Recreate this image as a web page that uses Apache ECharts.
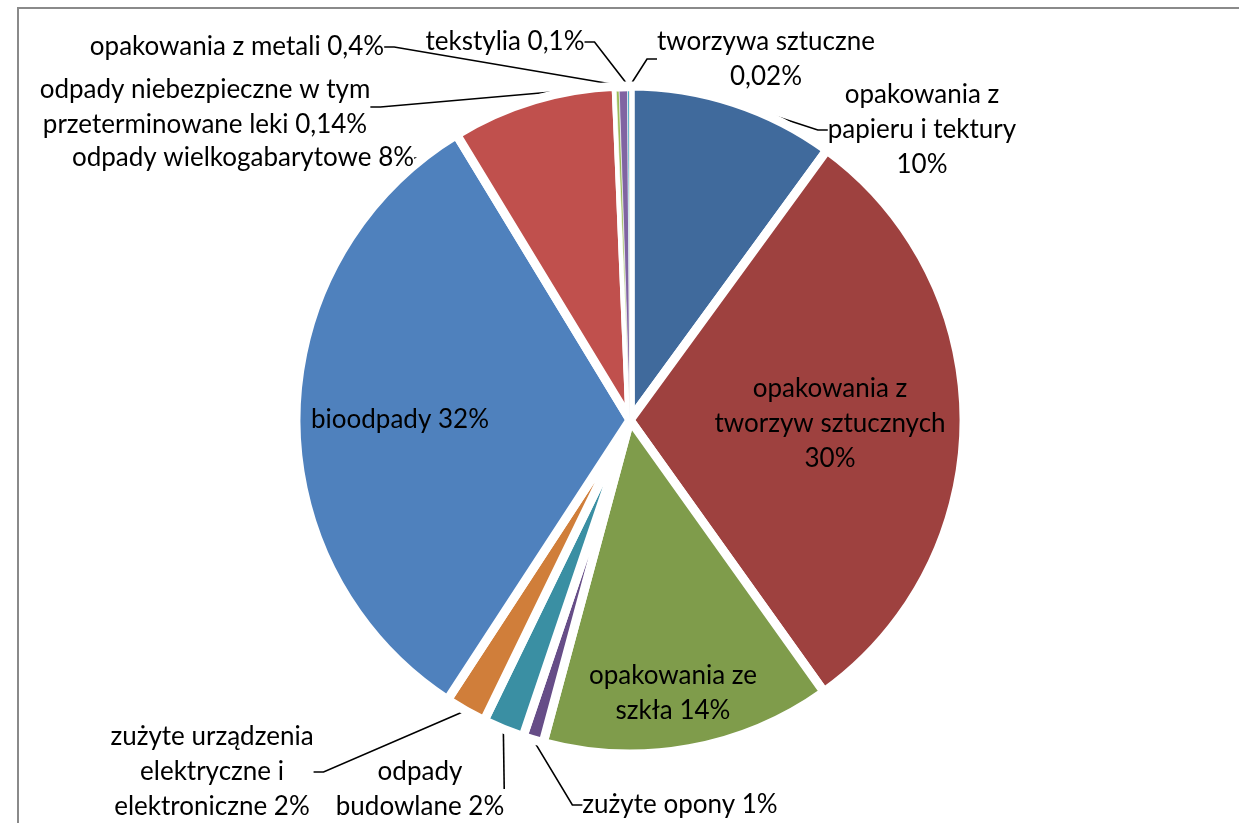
<!DOCTYPE html>
<html>
<head>
<meta charset="utf-8">
<script src="https://cdn.jsdelivr.net/npm/echarts@6/dist/echarts.min.js"></script>
<style>
html, body { margin: 0; padding: 0; background: #fff; }
#chart { width: 1239px; height: 823px; }
</style>
</head>
<body>
<div id="chart"></div>
<script>
// kategorie i udzialy (%)
var categories = [
  'opakowania z papieru i tektury',
  'opakowania z tworzyw sztucznych',
  'opakowania ze szkła',
  'zużyte opony',
  'odpady budowlane',
  'zużyte urządzenia elektryczne i elektroniczne',
  'bioodpady',
  'odpady wielkogabarytowe',
  'odpady niebezpieczne w tym przeterminowane leki',
  'opakowania z metali',
  'tekstylia',
  'tworzywa sztuczne'
];
var values = [10, 30, 14, 1, 2, 2, 32, 8, 0.14, 0.4, 0.1, 0.02];
// tekst etykiet z podzialem wierszy jak na wykresie
var labelNames = [
  'opakowania z\npapieru i tektury\n',
  'opakowania z\ntworzyw sztucznych\n',
  'opakowania ze\nszkła ',
  'zużyte opony ',
  'odpady\nbudowlane ',
  'zużyte urządzenia\nelektryczne i\nelektroniczne ',
  'bioodpady ',
  'odpady wielkogabarytowe ',
  'odpady niebezpieczne w tym\nprzeterminowane leki ',
  'opakowania z metali ',
  'tekstylia ',
  'tworzywa sztuczne\n'
];
var colors = ['#406A9C', '#9E413F', '#7F9C4B', '#664D87', '#3A8FA3', '#D07E3A',
              '#4F81BD', '#C0504D', '#9BBB59', '#8064A2', '#4BACC6', '#F79646'];
var insideLabels = [1, 2, 6];
var tinySlices = [8, 9, 10, 11];

// polozenie etykiet (srodek bloku tekstu)
var labelPos = [
  [922, 130], [830, 424], [673, 693], [680, 805], [420, 789], [212, 772],
  [400, 420], [243, 158], [205, 107], [237, 47], [505, 42], [766, 59]
];

var myChart = echarts.init(document.getElementById('chart'));

var pieData = categories.map(function (c, i) {
  var item = {
    name: c,
    value: values[i],
    itemStyle: { color: colors[i] }
  };
  if (insideLabels.indexOf(i) >= 0) {
    item.label = { position: 'inside' };
    item.labelLine = { show: false };
  }
  return item;
});

// drugi pierscien: tylko najmniejsze wycinki, zeby nie znikly pod bialymi przerwami
var tinyData = categories.map(function (c, i) {
  var tiny = tinySlices.indexOf(i) >= 0;
  return {
    name: c,
    value: values[i],
    itemStyle: tiny
      ? { color: colors[i], borderColor: '#fff', borderWidth: 0.6 }
      : { color: 'transparent', borderWidth: 0 }
  };
});

var option = {
  animation: false,
  graphic: [{
    type: 'rect',
    shape: { x: 18, y: 8, width: 1300, height: 900 },
    style: { fill: 'none', stroke: '#8a8a8a', lineWidth: 2 },
    silent: true
  }],
  series: [{
    type: 'pie',
    center: [630, 420],
    radius: [0, 334],
    startAngle: 90,
    clockwise: true,
    avoidLabelOverlap: false,
    itemStyle: { borderColor: '#fff', borderWidth: 9 },
    emphasis: { disabled: true },
    label: {
      show: true,
      position: 'outside',
      color: '#000',
      fontFamily: 'Lato',
      fontSize: 26,
      lineHeight: 35,
      formatter: function (p) {
        return labelNames[p.dataIndex] + String(p.value).replace('.', ',') + '%';
      }
    },
    labelLine: {
      show: true,
      length: 10,
      length2: 10,
      lineStyle: { color: '#000', width: 1.6 }
    },
    labelLayout: function (p) {
      var pos = labelPos[p.dataIndex];
      return { x: pos[0], y: pos[1], align: 'center', verticalAlign: 'middle' };
    },
    data: pieData
  }, {
    type: 'pie',
    center: [630, 420],
    radius: [0, 329],
    startAngle: 90,
    clockwise: true,
    silent: true,
    z: 3,
    label: { show: false },
    labelLine: { show: false },
    emphasis: { disabled: true },
    data: tinyData
  }]
};
myChart.setOption(option);
</script>
</body>
</html>
